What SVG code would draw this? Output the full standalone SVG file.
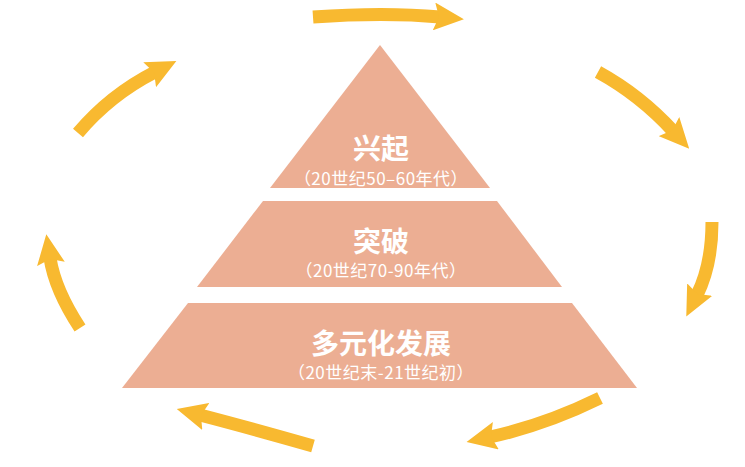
<svg xmlns="http://www.w3.org/2000/svg" width="745" height="467" viewBox="0 0 745 467">
<style>
.tier{fill:#ECAE93;}
.title{font-family:"Noto Sans CJK SC","Noto Sans",sans-serif;font-weight:bold;font-size:28px;fill:#FFFFFF;text-anchor:middle;}
.sub{font-family:"Noto Sans CJK SC","Noto Sans",sans-serif;font-size:17px;letter-spacing:0.5px;fill:#FFFFFF;text-anchor:middle;}
.arrow{fill:none;stroke:#F8B930;stroke-width:13;stroke-linecap:butt;marker-end:url(#head);}
</style>
<defs>
<marker id="head" markerUnits="userSpaceOnUse" viewBox="0 0 30 28" markerWidth="30" markerHeight="28" refX="6" refY="14" orient="auto">
<path d="M0,0 L30,14 L0,28 L5,14 Z" fill="#F8B930"/>
</marker>
</defs>
<rect width="745" height="467" fill="#FFFFFF"/>
<g id="tier-top">
<polygon class="tier" points="380,45 270,188 490,188"/>
<text class="title" x="381" y="159">兴起</text>
<text class="sub" x="381" y="185">（20世纪50–60年代）</text>
</g>
<g id="tier-middle">
<polygon class="tier" points="263,201 497,201 562,287 197,287"/>
<text class="title" x="381" y="252">突破</text>
<text class="sub" x="381" y="277">（20世纪70-90年代）</text>
</g>
<g id="tier-bottom">
<polygon class="tier" points="188,303 572,303 637,388 122,388"/>
<text class="title" x="381" y="354">多元化发展</text>
<text class="sub" x="381" y="379">（20世纪末-21世纪初）</text>
</g>
<g id="connectors">
<path class="arrow" d="M313,17 Q385,12 440,17"/>
<path class="arrow" d="M598,72 Q640,95 673,131"/>
<path class="arrow" d="M712,222 Q712,265 697,295"/>
<path class="arrow" d="M600,398 Q545,425 490,437"/>
<path class="arrow" d="M313,446 Q250,428 200,415"/>
<path class="arrow" d="M80,328 Q55,290 50,258"/>
<path class="arrow" d="M78,133 Q110,95 155,72"/>
</g>
</svg>
